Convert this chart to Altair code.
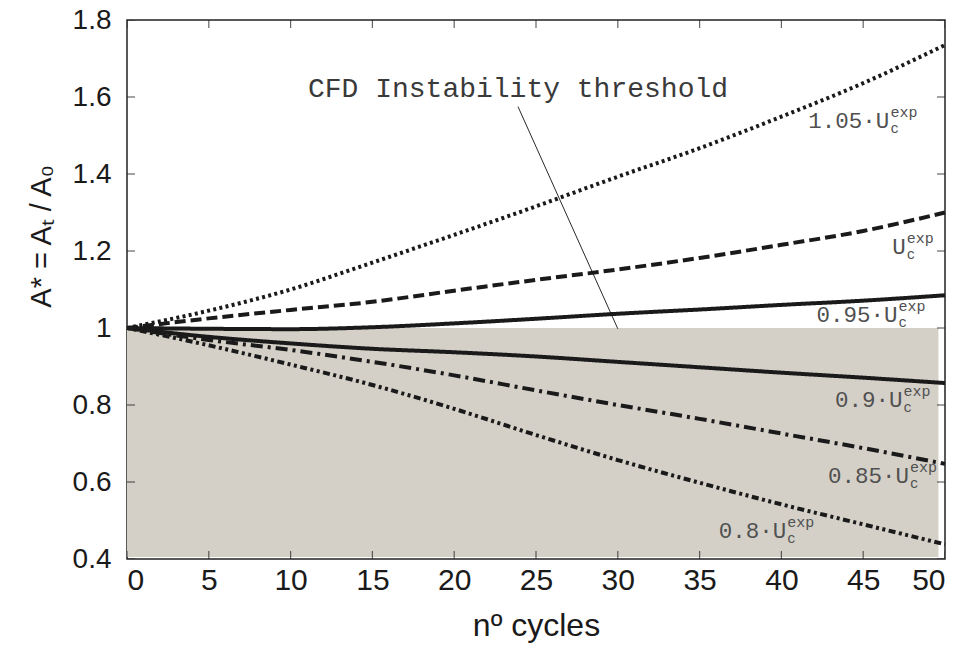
import altair as alt
import pandas as pd

# ---- data ----
cycles = [0, 5, 10, 15, 20, 25, 30, 35, 40, 45, 50]
a_105 = [1.000, 1.045, 1.100, 1.170, 1.242, 1.316, 1.393, 1.467, 1.549, 1.636, 1.735]
a_100 = [1.000, 1.025, 1.047, 1.068, 1.097, 1.125, 1.152, 1.182, 1.216, 1.252, 1.300]
a_095 = [1.000, 0.998, 0.997, 1.002, 1.012, 1.024, 1.037, 1.048, 1.060, 1.071, 1.085]
a_090 = [1.000, 0.977, 0.960, 0.946, 0.937, 0.926, 0.912, 0.898, 0.884, 0.871, 0.857]
a_085 = [1.000, 0.969, 0.943, 0.912, 0.877, 0.838, 0.800, 0.764, 0.726, 0.688, 0.647]
a_080 = [1.000, 0.955, 0.905, 0.852, 0.790, 0.722, 0.657, 0.598, 0.542, 0.490, 0.438]
series_names = ["1.05", "1.00", "0.95", "0.90", "0.85", "0.80"]
series_values = [a_105, a_100, a_095, a_090, a_085, a_080]

label_main = ["1.05·U", "U", "0.95·U", "0.9·U", "0.85·U", "0.8·U"]
label_x = [46.6, 47.6, 47.1, 47.4, 47.8, 40.3]
label_y = [1.538, 1.210, 1.034, 0.813, 0.615, 0.473]

shade_x = [0.0, 49.6]
shade_y = [0.405, 1.0]

note_text = "CFD Instability threshold"
note_pos = [23.9, 1.621]
note_line_x = [23.9, 30.0]
note_line_y = [1.575, 0.998]

x_ticks = [0, 5, 10, 15, 20, 25, 30, 35, 40, 45, 50]
y_ticks = [0.4, 0.6, 0.8, 1.0, 1.2, 1.4, 1.6, 1.8]

# ---- tables ----
rows = []
for name, vals in zip(series_names, series_values):
    for c, v in zip(cycles, vals):
        rows.append({"cycle": c, "A": v, "series": name})
df = pd.DataFrame(rows)

labels = pd.DataFrame({"x": label_x, "y": label_y, "main": label_main,
                       "sub": ["c"] * 6, "sup": ["exp"] * 6})
shade_df = pd.DataFrame({"x": [shade_x[0]], "x2": [shade_x[1]],
                         "y": [shade_y[0]], "y2": [shade_y[1]]})
note_df = pd.DataFrame({"x": [note_pos[0]], "y": [note_pos[1]], "t": [note_text]})
rule_df = pd.DataFrame({"x": [note_line_x[0]], "x2": [note_line_x[1]],
                        "y": [note_line_y[0]], "y2": [note_line_y[1]]})
xt_df = pd.DataFrame({"x": x_ticks, "ylo": [y_ticks[0]] * len(x_ticks),
                      "yhi": [y_ticks[-1]] * len(x_ticks)})
yt_df = pd.DataFrame({"y": y_ticks, "xlo": [x_ticks[0]] * len(y_ticks),
                      "xhi": [x_ticks[-1]] * len(y_ticks)})

xscale = alt.Scale(domain=[0, 50], nice=False, zero=False)
yscale = alt.Scale(domain=[0.4, 1.8], nice=False, zero=False)

SANS = "Liberation Sans, Arial, sans-serif"
NARROW = "Liberation Sans Narrow, Arial Narrow, Liberation Sans, sans-serif"
MONO = "Liberation Mono, Courier New, monospace"

x_axis = alt.Axis(values=x_ticks, ticks=False, domain=False, grid=False,
                  labelFont=NARROW, labelFontSize=30, labelColor="#1a1a1a",
                  labelPadding=6, title="nº cycles", titleFont=NARROW,
                  titleFontSize=32, titleFontWeight="normal", titleColor="#1a1a1a",
                  titlePadding=15, labelFlush=True)
y_axis = alt.Axis(values=y_ticks, ticks=False, domain=False, grid=False,
                  format="~g", labelFont=SANS, labelFontSize=28,
                  labelColor="#1a1a1a", labelPadding=16, title="A* = Aₜ / A₀",
                  titleFont=SANS, titleFontSize=29, titleFontWeight="normal",
                  titleColor="#1a1a1a", titleAngle=270, titleX=-77, titleY=216,
                  titleAlign="center", titleBaseline="alphabetic", labelFlush=False)


def X(field):
    return alt.X(field, scale=xscale, axis=x_axis)


def Y(field):
    return alt.Y(field, scale=yscale, axis=y_axis)


shade = alt.Chart(shade_df).mark_rect(color="#d4d0c8").encode(
    x=X("x:Q"), x2="x2:Q", y=Y("y:Q"), y2="y2:Q",
)

dash_range = [[3, 3.3], [11, 5], [1, 0], [1, 0], [12, 5, 3, 5], [3, 3.5, 3, 3.5, 7, 3.5]]
width_range = [4, 4, 3.2, 4, 4, 4]
lines = alt.Chart(df).mark_line(color="#1a1a1a", interpolate="monotone",
                                 strokeCap="butt").encode(
    x=X("cycle:Q"),
    y=Y("A:Q"),
    strokeDash=alt.StrokeDash("series:N", legend=None,
                              scale=alt.Scale(domain=series_names, range=dash_range)),
    strokeWidth=alt.StrokeWidth("series:N", legend=None,
                                scale=alt.Scale(domain=series_names, range=width_range)),
    detail="series:N",
)

rule = alt.Chart(rule_df).mark_rule(color="#111", strokeWidth=0.9).encode(
    x=X("x:Q"), x2="x2:Q", y=Y("y:Q"), y2="y2:Q",
)

note = alt.Chart(note_df).mark_text(font=MONO, fontSize=28, color="#3a3a3a",
                                    align="center", baseline="middle").encode(
    x=X("x:Q"), y=Y("y:Q"), text="t:N",
)

TXT = "#505050"
lab_main = alt.Chart(labels).mark_text(font=MONO, fontSize=22.5, color=TXT,
                                       align="right", baseline="middle").encode(
    x=X("x:Q"), y=Y("y:Q"), text="main:N",
)
lab_sub = alt.Chart(labels).mark_text(font=MONO, fontSize=14, color=TXT,
                                      align="left", baseline="middle", dy=8, dx=1).encode(
    x=X("x:Q"), y=Y("y:Q"), text="sub:N",
)
lab_sup = alt.Chart(labels).mark_text(font=MONO, fontSize=15, color=TXT,
                                      align="left", baseline="middle", dy=-9, dx=1).encode(
    x=X("x:Q"), y=Y("y:Q"), text="sup:N",
)

tick_style = dict(size=16, thickness=1.2, color="#222", clip=True)
xt_bot = alt.Chart(xt_df).mark_tick(orient="vertical", **tick_style).encode(
    x=X("x:Q"), y=Y("ylo:Q"))
xt_top = alt.Chart(xt_df).mark_tick(orient="vertical", **tick_style).encode(
    x=X("x:Q"), y=Y("yhi:Q"))
yt_left = alt.Chart(yt_df).mark_tick(orient="horizontal", **tick_style).encode(
    x=X("xlo:Q"), y=Y("y:Q"))
yt_right = alt.Chart(yt_df).mark_tick(orient="horizontal", **tick_style).encode(
    x=X("xhi:Q"), y=Y("y:Q"))

chart = alt.layer(
    shade, lines, rule, note, lab_main, lab_sub, lab_sup,
    xt_bot, xt_top, yt_left, yt_right,
).properties(
    width=818, height=539,
    autosize=alt.AutoSizeParams(type="none"),
    padding={"left": 127, "top": 20, "right": 9, "bottom": 96},
    background="white",
).configure_view(stroke="#222", strokeWidth=1.5)

chart.save("out.html", embed_options={"renderer": "svg", "actions": False})
